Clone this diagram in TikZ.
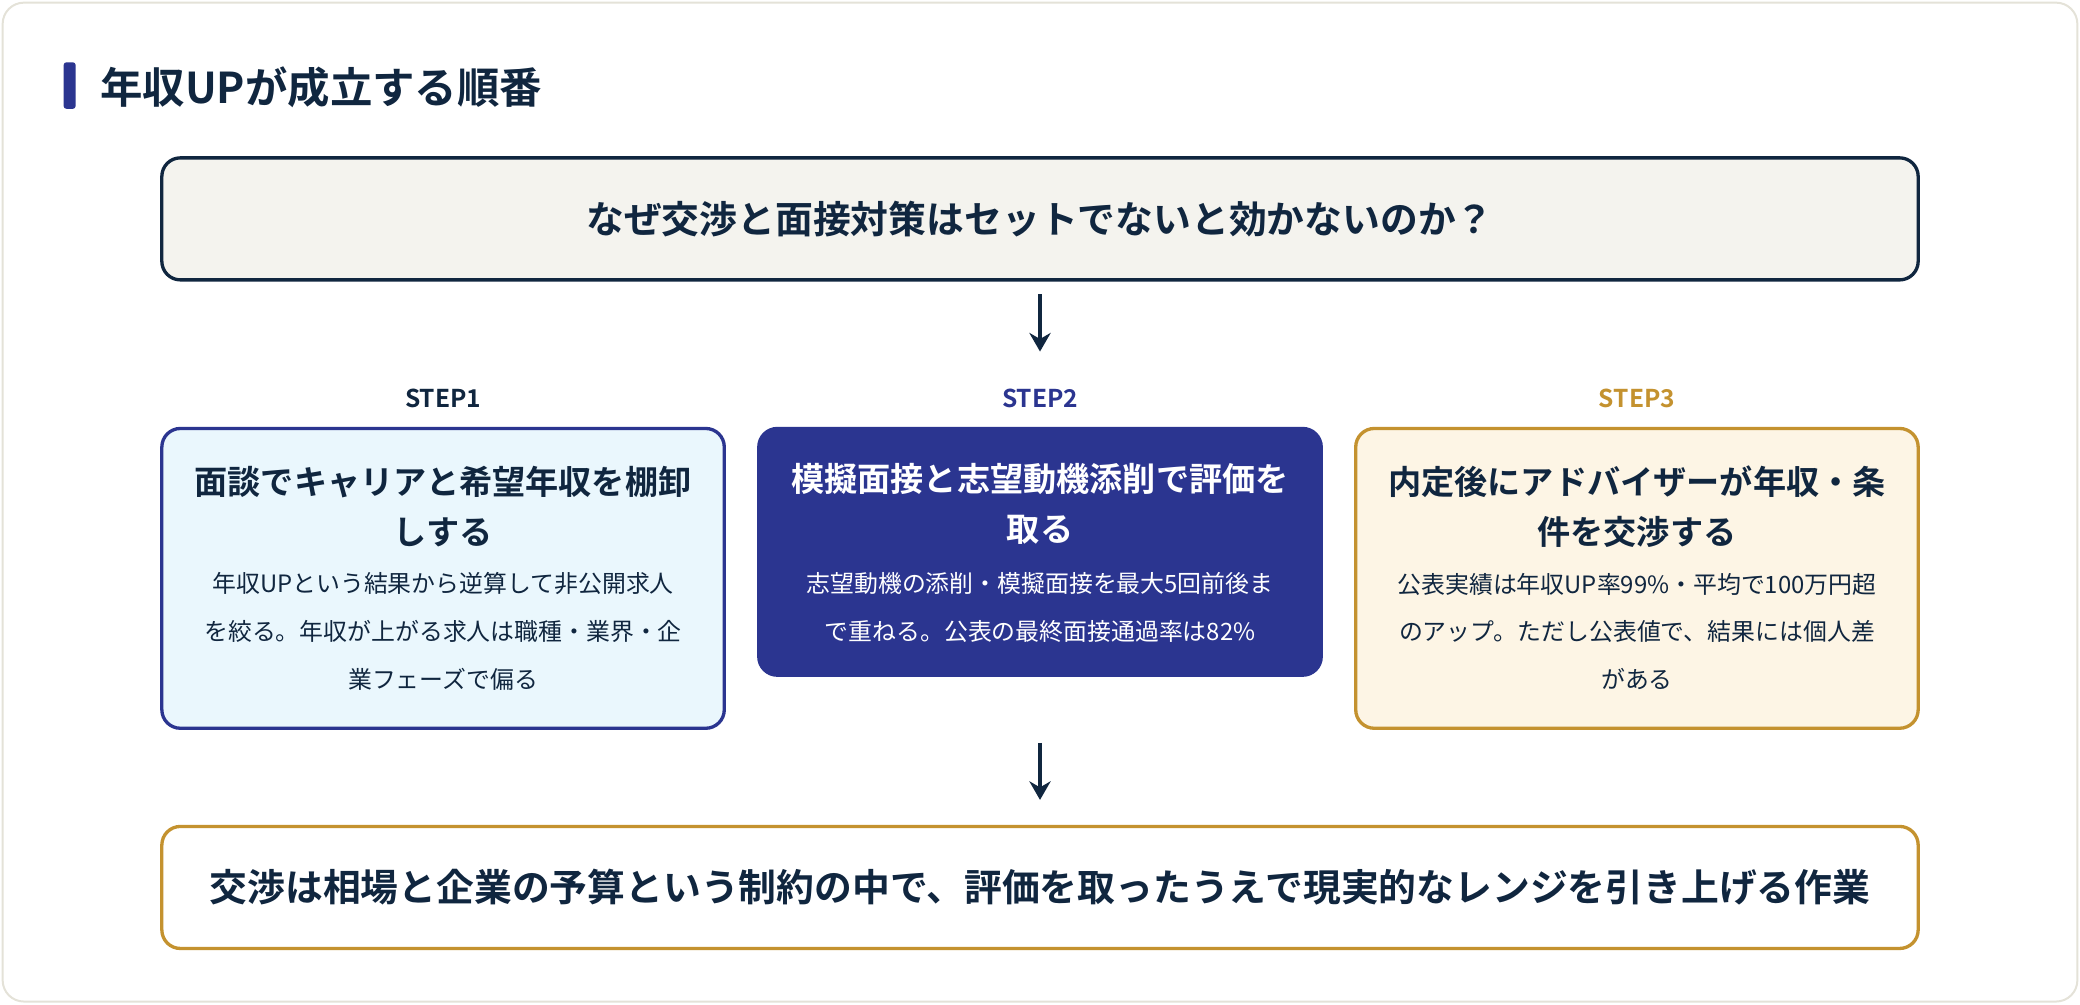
\documentclass[tikz,border=0pt]{standalone}
\usetikzlibrary{arrows.meta}
\usepackage{fontspec}
\setmainfont{Noto Sans CJK JP}
\newfontfamily\bfj{Noto Sans CJK JP Bold}
\definecolor{ink}{HTML}{10263F}
\definecolor{navy}{HTML}{2B3590}
\definecolor{gold}{HTML}{C4922F}
\definecolor{lblue}{HTML}{EAF7FD}
\definecolor{cream}{HTML}{FDF5E5}
\definecolor{topfill}{HTML}{F4F3EE}
\definecolor{frame}{HTML}{E4E2D8}
\begin{document}
\begin{tikzpicture}[x=1pt,y=-1pt,
  box/.style={draw, line width=2.5pt, rounded corners=14pt, align=center, inner sep=0pt},
  head/.style={font=\bfj\fontsize{25}{38}\selectfont},
  body/.style={font=\fontsize{18}{36}\selectfont},
  arr/.style={ink, line width=2.5pt, -{Stealth[length=14pt,width=16pt]}}]
\useasboundingbox (0,0) rectangle (1568,757);
\draw[frame, line width=1.5pt, fill=white, rounded corners=16pt] (2,2) rectangle (1566,755);
\fill[navy, rounded corners=2pt] (48,47) rectangle (57,82);
\node[anchor=west, ink, font=\bfj\fontsize{32}{36}\selectfont] (title) at (72,66) {年収UPが成立する順番};

\node[box, draw=ink, fill=topfill, minimum width=1324pt, minimum height=92pt, text=ink,
  font=\bfj\fontsize{28.5}{34}\selectfont] (q) at (784,165) {なぜ交渉と面接対策はセットでないと効かないのか？};

\node[box, draw=navy, fill=lblue, minimum width=424pt, minimum height=226pt, text=ink] (s1) at (334,436) {};
\node[box, draw=navy, fill=navy, minimum width=424pt, minimum height=186pt, text=white] (s2) at (784,416) {};
\node[box, draw=gold, fill=cream, minimum width=424pt, minimum height=226pt, text=ink] (s3) at (1234,436) {};

\node[ink, font=\bfj\fontsize{18.5}{22}\selectfont] (l1) at (334,300) {STEP1};
\node[navy, font=\bfj\fontsize{18.5}{22}\selectfont] (l2) at (784,300) {STEP2};
\node[gold, font=\bfj\fontsize{18.5}{22}\selectfont] (l3) at (1234,300) {STEP3};

\node[ink, head, align=center] (h1) at (334,382) {面談でキャリアと希望年収を棚卸\\しする};
\node[ink, body, align=center] (b1) at (334,476) {年収UPという結果から逆算して非公開求人\\を絞る。年収が上がる求人は職種・業界・企\\業フェーズで偏る};
\node[white, head, align=center] (h2) at (784,380) {模擬面接と志望動機添削で評価を\\取る};
\node[white, body, align=center] (b2) at (784,458) {志望動機の添削・模擬面接を最大5回前後ま\\で重ねる。公表の最終面接通過率は82\%};
\node[ink, head, align=center] (h3) at (1234,382) {内定後にアドバイザーが年収・条\\件を交渉する};
\node[ink, body, align=center] (b3) at (1234,476) {公表実績は年収UP率99\%・平均で100万円超\\のアップ。ただし公表値で、結果には個人差\\がある};

\node[box, draw=gold, fill=white, minimum width=1324pt, minimum height=92pt, text=ink,
  font=\bfj\fontsize{28.5}{34}\selectfont] (c) at (784,669) {交渉は相場と企業の予算という制約の中で、評価を取ったうえで現実的なレンジを引き上げる作業};

\coordinate (a1) at (784,222);
\coordinate (a2) at (784,265);
\coordinate (a3) at (784,560);
\coordinate (a4) at (784,603);
\draw[arr] (a1) -- (a2);
\draw[arr] (a3) -- (a4);
\end{tikzpicture}
\end{document}
